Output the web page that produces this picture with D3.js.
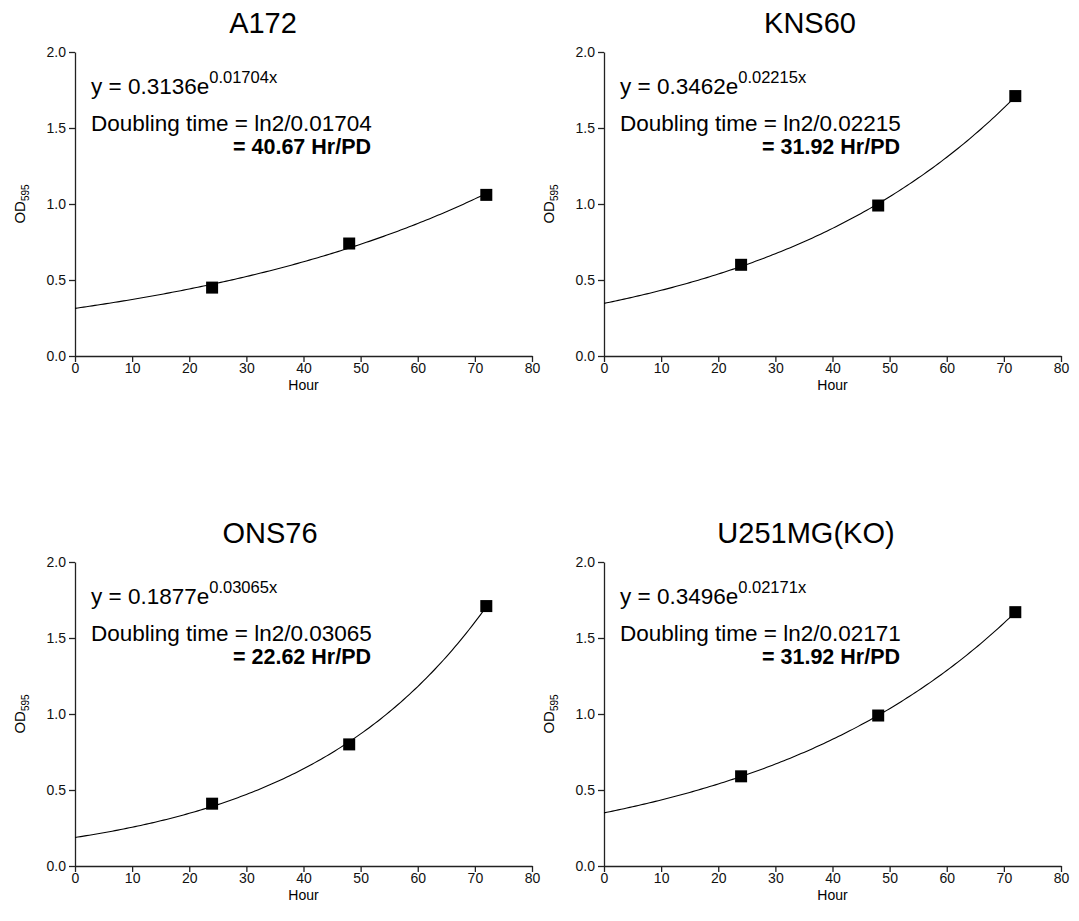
<!DOCTYPE html>
<html>
<head>
<meta charset="utf-8">
<script src="https://cdn.jsdelivr.net/npm/d3@7"></script>
<style>
  body { margin: 0; background: #fff; }
  svg { font-family: "Liberation Sans", Arial, sans-serif; }
  .axis path, .axis line { stroke: #222; stroke-width: 1.3px; }
  .axis text { font-size: 14px; fill: #111; }
</style>
</head>
<body>
<svg id="chart"></svg>
<script>
// cell lines and measurements
var cellLines = ["A172", "KNS60", "ONS76", "U251MG(KO)"];
var hours = [24, 48, 72];
var odA172 = [0.45, 0.74, 1.06];
var odKNS60 = [0.60, 0.99, 1.71];
var odONS76 = [0.41, 0.80, 1.71];
var odU251 = [0.59, 0.99, 1.67];
// exponential fit y = a * e^(b x)
var fitA = ["0.3136", "0.3462", "0.1877", "0.3496"];
var fitB = ["0.01704", "0.02215", "0.03065", "0.02171"];
var doubling = ["40.67", "31.92", "22.62", "31.92"];
var xTicks = [0, 10, 20, 30, 40, 50, 60, 70, 80];
var yTicks = [0, 0.5, 1.0, 1.5, 2.0];

var odSeries = [odA172, odKNS60, odONS76, odU251];

var width = 1079, height = 921;
var svg = d3.select("#chart").attr("width", width).attr("height", height);

var plotW = 457, plotH = 304;
var origins = [[75, 52], [604, 52], [75, 562], [604, 562]];
var titleDx = [188, 206, 195, 202];

cellLines.forEach(function(name, i) {
	var ox = origins[i][0], oy = origins[i][1];
	var g = svg.append("g").attr("transform", "translate(" + ox + "," + oy + ")");

	var x = d3.scaleLinear().domain([0, 80]).range([0, plotW]);
	var y = d3.scaleLinear().domain([0, 2]).range([plotH, 0]);

	g.append("g").attr("class", "axis")
		.attr("transform", "translate(0," + plotH + ")")
		.call(d3.axisBottom(x).tickValues(xTicks).tickSize(6).tickSizeOuter(0).tickPadding(1));
	g.append("g").attr("class", "axis")
		.call(d3.axisLeft(y).tickValues(yTicks).tickFormat(d3.format(".1f")).tickSize(6).tickSizeOuter(0).tickPadding(3));

	// title
	g.append("text").attr("x", titleDx[i]).attr("y", -19)
		.attr("text-anchor", "middle").style("font-size", "29px").text(name);

	// axis labels
	g.append("text").attr("x", plotW / 2).attr("y", plotH + 34)
		.attr("text-anchor", "middle").style("font-size", "14px").text("Hour");
	var yl = g.append("text")
		.attr("transform", "translate(-50," + (plotH / 2) + ") rotate(-90)")
		.attr("text-anchor", "middle").style("font-size", "15px");
	yl.append("tspan").text("OD");
	yl.append("tspan").attr("dy", 4).style("font-size", "10px").text("595");

	// fitted curve
	var a = +fitA[i], b = +fitB[i];
	var curveX = d3.range(0, 72.001, 0.5);
	var line = d3.line()
		.x(function(d) { return x(d); })
		.y(function(d) { return y(a * Math.exp(b * d)); });
	g.append("path").datum(curveX).attr("d", line)
		.attr("fill", "none").attr("stroke", "#000").attr("stroke-width", 1.1);

	// points
	var s = 12;
	g.selectAll("rect.pt").data(hours.map(function(h, k) { return [h, odSeries[i][k]]; }))
		.enter().append("rect").attr("class", "pt")
		.attr("x", function(d) { return x(d[0]) - s / 2; })
		.attr("y", function(d) { return y(d[1]) - s / 2; })
		.attr("width", s).attr("height", s).attr("fill", "#000");

	// equation text
	var eq = g.append("text").attr("x", 16).attr("y", 42).style("font-size", "22.5px");
	eq.append("tspan").text("y = " + fitA[i] + "e");
	eq.append("tspan").attr("dy", -11).style("font-size", "16.5px").text(fitB[i] + "x");

	g.append("text").attr("x", 16).attr("y", 79).style("font-size", "22.5px")
		.text("Doubling time = ln2/" + fitB[i]);
	g.append("text").attr("x", 158).attr("y", 102).style("font-size", "21.5px")
		.style("font-weight", "bold").text("= " + doubling[i] + " Hr/PD");
});
</script>
</body>
</html>
